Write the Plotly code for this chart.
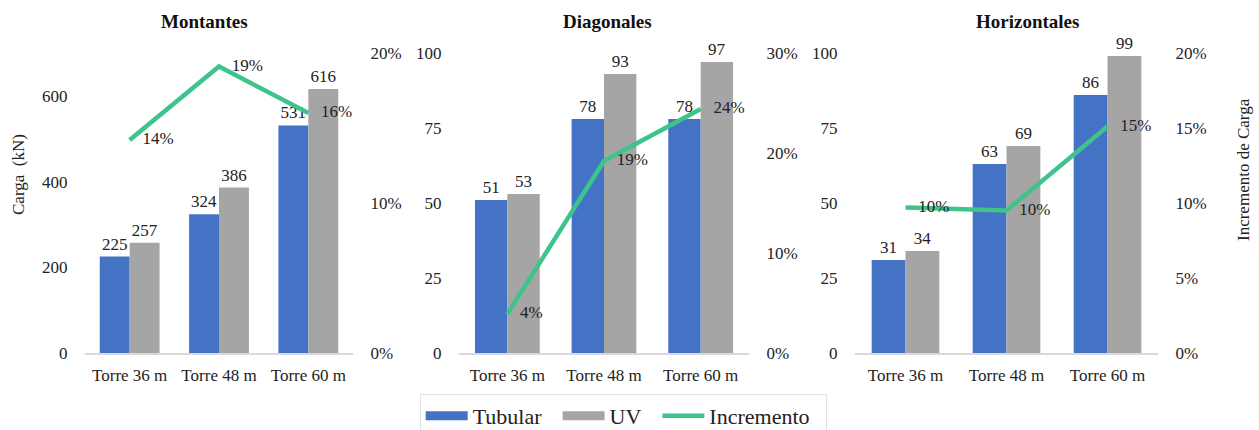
import plotly.graph_objects as go

categories = ["Torre 36 m", "Torre 48 m", "Torre 60 m"]
panel_titles = ["Montantes", "Diagonales", "Horizontales"]

tubular_montantes = [225, 324, 531]
uv_montantes = [257, 386, 616]
inc_montantes = [0.142, 0.191, 0.160]

tubular_diagonales = [51, 78, 78]
uv_diagonales = [53, 93, 97]
inc_diagonales = [0.039, 0.192, 0.244]

tubular_horizontales = [31, 63, 86]
uv_horizontales = [34, 69, 99]
inc_horizontales = [0.097, 0.095, 0.151]

left_ranges = [[0, 700], [0, 100], [0, 100]]
left_ticks = [[0, 200, 400, 600], [0, 25, 50, 75, 100], [0, 25, 50, 75, 100]]
right_ranges = [[0, 0.20], [0, 0.30], [0, 0.20]]
right_ticks = [[0, 0.1, 0.2], [0, 0.1, 0.2, 0.3], [0, 0.05, 0.10, 0.15, 0.20]]

W, H = 1259, 430
FONT = "Liberation Serif"
BLUE = "#4472C4"
GREY = "#A5A5A5"
GREEN = "#3EC48A"
TXT = "#222222"
NB = "\u00a0"

x_px = [(85, 353), (459, 749), (855, 1158)]
y_dom = [1 - 353 / H, 1 - 53 / H]
title_px = [204, 607, 1027]

data = [
    (tubular_montantes, uv_montantes, inc_montantes),
    (tubular_diagonales, uv_diagonales, inc_diagonales),
    (tubular_horizontales, uv_horizontales, inc_horizontales),
]

fig = go.Figure()
layout = {}
for i, (tub, uv, inc) in enumerate(data):
    xa = "x" if i == 0 else f"x{i+1}"
    yl = "y" if i == 0 else f"y{2*i+1}"
    yr = f"y{2*i+2}"
    fig.add_trace(go.Bar(x=categories, y=tub, xaxis=xa, yaxis=yl, name="Tubular",
                         marker=dict(color=BLUE, line=dict(width=0)),
                         text=[str(v) for v in tub], textposition="outside",
                         textfont=dict(family=FONT, size=17, color=TXT),
                         cliponaxis=False, showlegend=False, offsetgroup="a"))
    fig.add_trace(go.Bar(x=categories, y=uv, xaxis=xa, yaxis=yl, name="UV",
                         marker=dict(color=GREY, line=dict(width=0)),
                         text=[str(v) for v in uv], textposition="outside",
                         textfont=dict(family=FONT, size=17, color=TXT),
                         cliponaxis=False, showlegend=False, offsetgroup="b"))
    fig.add_trace(go.Scatter(x=categories, y=inc, xaxis=xa, yaxis=yr, name="Incremento",
                             mode="lines+text", line=dict(color=GREEN, width=4.5),
                             text=[f"{NB*3}{round(v*100):d}%" for v in inc],
                             textposition="middle right",
                             textfont=dict(family=FONT, size=17, color=TXT),
                             cliponaxis=False, showlegend=False))
    x0, x1 = x_px[i]
    xkey = "xaxis" if i == 0 else f"xaxis{i+1}"
    ylkey = "yaxis" if i == 0 else f"yaxis{2*i+1}"
    yrkey = f"yaxis{2*i+2}"
    layout[xkey] = dict(domain=[x0 / W, x1 / W], anchor=yl, showgrid=False,
                        showline=True, linecolor="#D9D9D9", linewidth=1.5,
                        ticks="outside", ticklen=6, tickcolor="rgba(0,0,0,0)",
                        tickfont=dict(family=FONT, size=17, color=TXT),
                        zeroline=False, fixedrange=True)
    layout[ylkey] = dict(domain=y_dom, anchor=xa, range=left_ranges[i],
                         tickvals=left_ticks[i], showgrid=False, zeroline=False,
                         showline=False, ticks="outside", ticklen=13,
                         tickcolor="rgba(0,0,0,0)",
                         tickfont=dict(family=FONT, size=17, color=TXT))
    layout[yrkey] = dict(overlaying=yl, side="right", anchor=xa,
                         range=right_ranges[i], tickvals=right_ticks[i],
                         tickformat=".0%", showgrid=False, zeroline=False,
                         showline=False, ticks="outside", ticklen=13,
                         tickcolor="rgba(0,0,0,0)",
                         tickfont=dict(family=FONT, size=17, color=TXT))

# legend entries
fig.add_trace(go.Scatter(x=[None], y=[None], mode="lines", name="Tubular" + NB * 2,
                         line=dict(color=BLUE, width=9)))
fig.add_trace(go.Scatter(x=[None], y=[None], mode="lines", name="UV" + NB * 2,
                         line=dict(color=GREY, width=9)))
fig.add_trace(go.Scatter(x=[None], y=[None], mode="lines", name="Incremento" + NB * 2,
                         line=dict(color=GREEN, width=4.5)))

annotations = []
for i, t in enumerate(panel_titles):
    annotations.append(dict(text=f"<b>{t}</b>", x=title_px[i] / W, y=1 - 22 / H,
                            xref="paper", yref="paper", showarrow=False,
                            font=dict(family=FONT, size=19, color="#111"),
                            xanchor="center", yanchor="middle"))
annotations.append(dict(text="Carga  (kN)", x=18 / W, y=1 - 175 / H,
                        xref="paper", yref="paper", showarrow=False, textangle=-90,
                        font=dict(family=FONT, size=17, color=TXT),
                        xanchor="center", yanchor="middle"))
annotations.append(dict(text="Incremento de Carga", x=1243 / W, y=1 - 170 / H,
                        xref="paper", yref="paper", showarrow=False, textangle=-90,
                        font=dict(family=FONT, size=17, color=TXT),
                        xanchor="center", yanchor="middle"))

fig.update_layout(
    width=W, height=H,
    font=dict(family=FONT, color=TXT),
    margin=dict(l=0, r=0, t=0, b=0, autoexpand=False),
    paper_bgcolor="white", plot_bgcolor="white",
    barmode="group", bargap=0.33, bargroupgap=0,
    annotations=annotations,
    legend=dict(orientation="h", x=0.495, xanchor="center", y=-8 / H,
                yanchor="bottom", bordercolor="#E3E3E3", borderwidth=1,
                font=dict(family=FONT, size=22, color=TXT),
                itemwidth=42, traceorder="normal", bgcolor="white"),
    **layout,
)

fig.write_html("out.html", config={"displayModeBar": False},
               post_script="document.body.style.margin='0';document.body.style.overflow='hidden';")
